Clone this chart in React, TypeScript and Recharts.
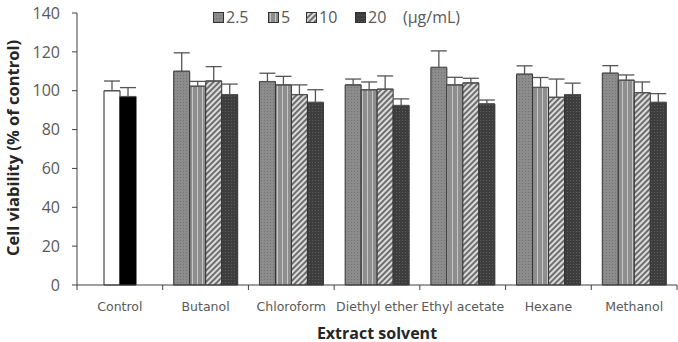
import React from 'react';
import { BarChart, Bar, XAxis, YAxis, ErrorBar, Cell } from 'recharts';

const categories = ['Control', 'Butanol', 'Chloroform', 'Diethyl ether', 'Ethyl acetate', 'Hexane', 'Methanol'];
const seriesNames = ['2.5', '5', '10', '20'];
const s25 = [null, 110, 104.7, 103, 112, 108.5, 109];
const s5 = [100, 102.3, 103, 100.5, 103, 101.7, 105.4];
const s10 = [97, 105, 98, 100.8, 104, 96.6, 99];
const s20 = [null, 98, 94, 92.4, 93.2, 98, 94];
const e25 = [null, 9.5, 4.3, 3, 8.5, 4.3, 3.9];
const e5 = [5, 2.5, 4.4, 4, 3.9, 5.1, 2.7];
const e10 = [4.6, 7.4, 5, 6.8, 2.4, 9.4, 5.5];
const e20 = [null, 5.4, 6.5, 3.4, 2, 5.9, 4.5];
const yTicks = [0, 20, 40, 60, 80, 100, 120, 140];
const unitLabel = '(µg/mL)';

const err = (e: number | null) => (e == null ? undefined : [0, e]);

const data = categories.map((name, i) => ({
  name,
  v25: s25[i],
  v5: s5[i],
  v10: s10[i],
  v20: s20[i],
  e25: err(e25[i]),
  e5: err(e5[i]),
  e10: err(e10[i]),
  e20: err(e20[i]),
}));

const FONT = '"Open Sans", "Noto Sans", sans-serif';
const XFONT = '"DejaVu Sans", sans-serif';
const AXIS = '#404040';
const TICKTXT = '#595959';

const XTick = (props: any) => {
  const { x, y, payload } = props;
  const half = payload && payload.offset ? payload.offset : 0;
  const isLast = payload && payload.value === categories[categories.length - 1];
  return (
    <g>
      <line x1={x - half} x2={x - half} y1={y} y2={y + 5} stroke={AXIS} strokeWidth={1} />
      {isLast ? <line x1={x + half} x2={x + half} y1={y} y2={y + 5} stroke={AXIS} strokeWidth={1} /> : null}
      <text x={x} y={y + 26} textAnchor="middle" fontSize={12.5} fill={TICKTXT} fontFamily={XFONT}>
        {payload.value}
      </text>
    </g>
  );
};

const YLabel = (props: any) => {
  const vb = props.viewBox || {};
  const cy = vb.y + vb.height / 2;
  return (
    <text
      transform={`translate(19, ${cy - 1}) rotate(-90)`}
      textAnchor="middle"
      fontSize={16.5}
      fontWeight="bold"
      fill="#262626"
      fontFamily={FONT}
    >
      Cell viability (% of control)
    </text>
  );
};

const XLabel = (props: any) => {
  const vb = props.viewBox || {};
  return (
    <text
      x={vb.x + vb.width / 2}
      y={vb.y + vb.height - 3}
      textAnchor="middle"
      fontSize={16}
      fontWeight="bold"
      fill="#262626"
      fontFamily={FONT}
    >
      Extract solvent
    </text>
  );
};

const patIds = ['pat25', 'pat5', 'pat10', 'pat20'];
const legendX = [213, 268, 306, 355];

export default function App() {
  return (
    <div style={{ position: 'absolute', left: 0, top: 0, width: 678, height: 342, background: '#fff' }}>
      <BarChart
        width={678}
        height={342}
        data={data}
        margin={{ top: 13, right: 1, bottom: 0, left: 0 }}
        barSize={16}
        barGap={0}
      >
        <defs>
          <pattern id="pat25" width="3" height="3" patternUnits="userSpaceOnUse">
            <rect width="3" height="3" fill="#8c8c8c" />
            <rect width="1" height="1" fill="#727272" />
          </pattern>
          <pattern id="pat5" width="5" height="4" patternUnits="userSpaceOnUse">
            <rect width="5" height="4" fill="#8e8e8e" />
            <rect x="2" width="1" height="4" fill="#c6c6c6" />
          </pattern>
          <pattern id="pat10" width="4" height="4" patternUnits="userSpaceOnUse" patternTransform="rotate(45)">
            <rect width="4" height="4" fill="#dcdcdc" />
            <rect width="2" height="4" fill="#6e6e6e" />
          </pattern>
          <pattern id="pat20" width="3" height="3" patternUnits="userSpaceOnUse">
            <rect width="3" height="3" fill="#3d3d3d" />
            <rect width="1" height="1" fill="#5e5e5e" />
          </pattern>
        </defs>
        <XAxis
          dataKey="name"
          type="category"
          interval={0}
          tickLine={false}
          tickSize={0}
          tickMargin={0}
          tick={XTick}
          axisLine={{ stroke: AXIS, strokeWidth: 1 }}
          height={57}
          label={<XLabel />}
        />
        <YAxis
          domain={[0, 140]}
          ticks={yTicks}
          interval={0}
          width={77}
          tickSize={5}
          tickMargin={12}
          tickLine={{ stroke: AXIS }}
          axisLine={{ stroke: AXIS, strokeWidth: 1 }}
          tick={{ fontSize: 16, fill: TICKTXT, fontFamily: FONT }}
          label={<YLabel />}
        />
        <Bar dataKey="v25" name={seriesNames[0]} fill="url(#pat25)" stroke="#333" strokeWidth={1} isAnimationActive={false}>
          <ErrorBar dataKey="e25" width={8} stroke="#555" strokeWidth={1.3} direction="y" />
        </Bar>
        <Bar dataKey="v5" name={seriesNames[1]} fill="url(#pat5)" stroke="#333" strokeWidth={1} isAnimationActive={false}>
          {data.map((d, i) => (
            <Cell key={i} fill={d.name === 'Control' ? '#ffffff' : 'url(#pat5)'} stroke={d.name === 'Control' ? '#222' : '#333'} />
          ))}
          <ErrorBar dataKey="e5" width={8} stroke="#555" strokeWidth={1.3} direction="y" />
        </Bar>
        <Bar dataKey="v10" name={seriesNames[2]} fill="url(#pat10)" stroke="#333" strokeWidth={1} isAnimationActive={false}>
          {data.map((d, i) => (
            <Cell key={i} fill={d.name === 'Control' ? '#000000' : 'url(#pat10)'} stroke={d.name === 'Control' ? '#000' : '#333'} />
          ))}
          <ErrorBar dataKey="e10" width={8} stroke="#555" strokeWidth={1.3} direction="y" />
        </Bar>
        <Bar dataKey="v20" name={seriesNames[3]} fill="url(#pat20)" stroke="#333" strokeWidth={1} isAnimationActive={false}>
          <ErrorBar dataKey="e20" width={8} stroke="#555" strokeWidth={1.3} direction="y" />
        </Bar>
      </BarChart>
      {seriesNames.map((s, i) => (
        <div key={s} style={{ position: 'absolute', left: legendX[i], top: 6, height: 22, display: 'flex', alignItems: 'center', fontFamily: FONT, fontSize: 16, color: TICKTXT }}>
          <svg width={11} height={11} style={{ marginRight: 2 }}>
            <rect x={0.5} y={0.5} width={10} height={10} fill={`url(#${patIds[i]})`} stroke="#333" />
          </svg>
          <span>{s}</span>
        </div>
      ))}
      <div style={{ position: 'absolute', left: 403, top: 6, height: 22, display: 'flex', alignItems: 'center', fontFamily: FONT, fontSize: 16, color: TICKTXT }}>
        {unitLabel}
      </div>
    </div>
  );
}
